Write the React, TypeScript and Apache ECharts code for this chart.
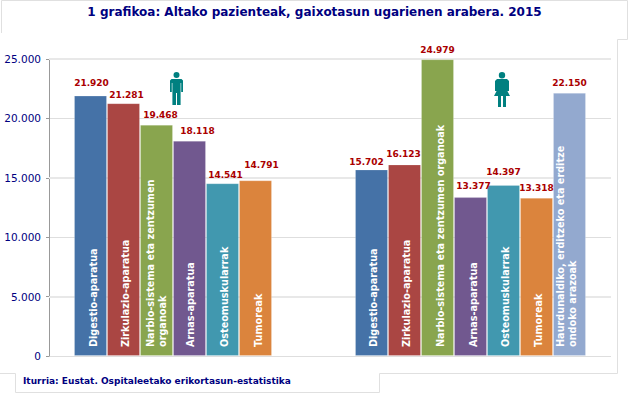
import React, { useEffect, useRef } from "react";
import * as echarts from "echarts";

const TITLE = "1 grafikoa: Altako pazienteak, gaixotasun ugarienen arabera. 2015";
const SOURCE = "Iturria: Eustat. Ospitaleetako erikortasun-estatistika";
const GROUPS = ["Gizonak", "Emakumeak"];
const MEN_NAMES = [
  "Digestio-aparatua",
  "Zirkulazio-aparatua",
  "Narbio-sistema eta zentzumen\norganoak",
  "Arnas-aparatua",
  "Osteomuskularrak",
  "Tumoreak",
  "",
];
const WOMEN_NAMES = [
  "Digestio-aparatua",
  "Zirkulazio-aparatua",
  "Narbio-sistema eta zentzumen organoak",
  "Arnas-aparatua",
  "Osteomuskularrak",
  "Tumoreak",
  "Haurdunaldiko, erditzeko eta erditze\nondoko arazoak",
];
const MEN = [21920, 21281, 19468, 18118, 14541, 14791, null];
const WOMEN = [15702, 16123, 24979, 13377, 14397, 13318, 22150];
const COLORS = ["#4572A7", "#AA4643", "#89A54E", "#71588F", "#4198AF", "#DB843D", "#93A9CF"];
const Y_TICK_STEP = 5000;
const Y_MAX = 25000;
const HEAVY_GRID_VALUES = [5000, 15000, 25000];

// Hand placement of the value labels (dx, dy), as they sit in the reference.
const MEN_NUDGE = [[1, -3], [3, 1], [4, 0], [8, 0], [3, 1], [6, -6], [0, 0]];
const WOMEN_NUDGE = [[-5, 2], [-1, -1], [0, 0], [3, -2], [0, -3], [0, 0], [0, 0]];
// Sideways shift of the rotated names. A label's offset turns with its text, so it goes second.
const MEN_NAME_NUDGE = [2.5, 2, 0, 1, 2.5, 3, 0];
const WOMEN_NAME_NUDGE = [2, 2, 2.5, 2.5, 2.5, 2.5, -2.5];

const MAN =
  "M6.5 0a3 3 0 1 1 0 6a3 3 0 1 1 0-6zM1.5 7H11.5L13 8.5V20H11.2V11H10.6V33H7V21H6V33H2.4V11H1.8V20H0V8.5Z";
const WOMAN =
  "M8 0a3.2 3.2 0 1 1 0 6.4a3.2 3.2 0 1 1 0-6.4zM3 7H13L15 9V19H13.4L16 24H12V35H9V24H7V35H4V24H0L2.6 19H1V9Z";

const FONT = "'DejaVu Sans', Verdana, sans-serif";
const dotted = (v: number) => String(v).replace(/\B(?=(\d{3})+$)/g, ".");

echarts.graphic.registerShape("manIcon", echarts.graphic.extendPath(MAN, {}));
echarts.graphic.registerShape("womanIcon", echarts.graphic.extendPath(WOMAN, {}));

const BORDER = { stroke: "#e0e0e0", lineWidth: 1, fill: "none" };

export default function App() {
  const ref = useRef<HTMLDivElement>(null);
  useEffect(() => {
    document.body.style.margin = "0";
    const chart = echarts.init(ref.current!, undefined, { renderer: "svg" });
    const valueSeries = COLORS.map((color, i) => ({
      name: WOMEN_NAMES[i],
      type: "bar",
      xAxisIndex: 0,
      barGap: 0,
      barCategoryGap: "17.8%",
      itemStyle: { color, borderColor: "rgba(255,255,255,0.2)", borderWidth: 1 },
      data: [
        { value: MEN[i], label: { offset: MEN_NUDGE[i] } },
        { value: WOMEN[i], label: { offset: WOMEN_NUDGE[i] } },
      ],
      label: {
        show: true,
        position: "top",
        distance: 5,
        color: "#AA0000",
        fontFamily: FONT,
        fontWeight: "bold",
        fontSize: 9,
        formatter: (p: any) => dotted(p.value),
      },
      markLine:
        i === 0
          ? {
              silent: true,
              z: 1,
              symbol: "none",
              label: { show: false },
              lineStyle: { color: "#e8e8e8", width: 2, type: "solid" },
              data: HEAVY_GRID_VALUES.map((yAxis) => ({ yAxis })),
            }
          : undefined,
    }));
    const nameSeries = COLORS.map((_, i) => ({
      name: WOMEN_NAMES[i] + " ",
      type: "bar",
      xAxisIndex: 1,
      barGap: 0,
      barCategoryGap: "17.8%",
      silent: true,
      itemStyle: { color: "transparent" },
      data: [
        { value: MEN[i], label: { formatter: MEN_NAMES[i], offset: [0, MEN_NAME_NUDGE[i]] } },
        { value: WOMEN[i], label: { formatter: WOMEN_NAMES[i], offset: [0, WOMEN_NAME_NUDGE[i]] } },
      ],
      label: {
        show: true,
        position: "insideBottom",
        distance: 9,
        rotate: 90,
        align: "left",
        verticalAlign: "middle",
        color: "#ffffff",
        fontFamily: FONT,
        fontWeight: "bold",
        fontSize: 9.7,
        lineHeight: 12,
      },
    }));
    chart.setOption({
      animation: false,
      backgroundColor: "#ffffff",
      grid: { left: 49, right: 17, top: 59, bottom: 38 },
      xAxis: [
        {
          type: "category",
          data: GROUPS,
          axisLine: { show: false },
          axisTick: { show: false },
          axisLabel: { show: false },
        },
        {
          type: "category",
          data: GROUPS,
          show: false,
        },
      ],
      yAxis: {
        type: "value",
        min: 0,
        max: Y_MAX,
        interval: Y_TICK_STEP,
        axisLine: { show: true, lineStyle: { color: "#999999", width: 1 } },
        axisTick: { show: true, length: 3, lineStyle: { color: "#999999" } },
        axisLabel: {
          color: "#000080",
          fontFamily: FONT,
          fontSize: 10.5,
          margin: 8,
          formatter: (v: number) => dotted(v),
        },
        splitLine: { show: true, lineStyle: { color: "#dedede", width: 1 } },
      },
      series: [...valueSeries, ...nameSeries],
      graphic: [
        {
          type: "text",
          x: 314.5,
          y: 12,
          style: {
            text: TITLE,
            fill: "#000080",
            font: `bold 12px ${FONT}`,
            textAlign: "center",
            textVerticalAlign: "middle",
          },
        },
        {
          type: "text",
          x: 23,
          y: 380.5,
          style: {
            text: SOURCE,
            fill: "#000080",
            font: `bold 9px ${FONT}`,
            textAlign: "left",
            textVerticalAlign: "middle",
          },
        },
        { type: "manIcon", x: 170, y: 72, style: { fill: "#008080" } },
        { type: "womanIcon", x: 494, y: 72, style: { fill: "#008080" } },
        {
          type: "polyline",
          shape: {
            points: [[1.5, 33], [1.5, 0.5], [627.5, 0.5], [627.5, 39.5], [617.5, 39.5], [617.5, 373.5], [379.5, 373.5], [379.5, 392.5], [15.5, 392.5], [15.5, 373.5], [0, 373.5]],
          },
          style: BORDER,
        },
      ],
    });
    return () => chart.dispose();
  }, []);
  return <div ref={ref} style={{ width: 628, height: 394 }} />;
}
